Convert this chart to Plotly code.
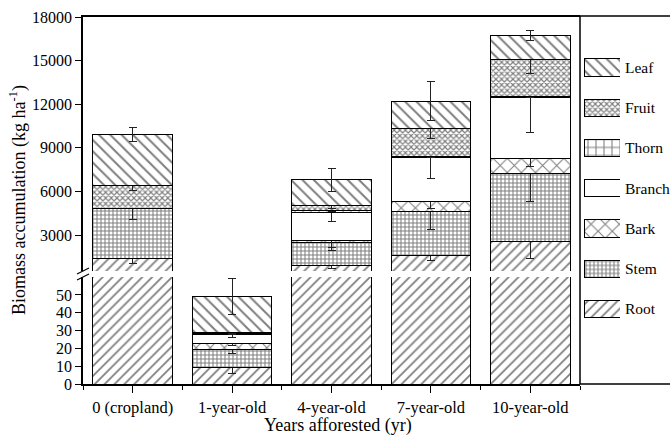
import plotly.graph_objects as go

# ---------------- data ----------------
categories = ["0 (cropland)", "1-year-old", "4-year-old", "7-year-old", "10-year-old"]
parts = ["Root", "Stem", "Bark", "Branch", "Thorn", "Fruit", "Leaf"]

root = [1350, 9.0, 900, 1600, 2550]
stem = [3500, 10.2, 1550, 3050, 4650]
bark = [0, 3.8, 200, 650, 1080]
branch = [0, 4.6, 1900, 3000, 4150]
thorn = [0, 0.7, 150, 100, 90]
fruit = [1550, 0.8, 350, 1900, 2570]
leaf = [3500, 19.9, 1750, 1900, 1630]

root_err = [280, 3, 200, 350, 1200]
stem_err = [800, 2, 500, 1300, 1900]
bark_err = [None, 1.5, 500, 450, 600]
branch_err = [None, 1.5, 620, 1400, 2400]
thorn_err = [None, 0.5, 100, 80, 60]
fruit_err = [350, 0.5, 250, 650, 1000]
leaf_err = [500, 10, 800, 1350, 350]

lower_ticks = [0, 10, 20, 30, 40, 50]
upper_ticks = [3000, 6000, 9000, 12000, 15000, 18000]
upper_tick_labels = ["3000", "6000", "9000", "12000", "15000", "18000"]

values = {"Root": root, "Stem": stem, "Bark": bark, "Branch": branch,
          "Thorn": thorn, "Fruit": fruit, "Leaf": leaf}
errors = {"Root": root_err, "Stem": stem_err, "Bark": bark_err, "Branch": branch_err,
          "Thorn": thorn_err, "Fruit": fruit_err, "Leaf": leaf_err}

# ---------------- styles ----------------
patterns = {
    "Root": dict(shape="/", size=7, solidity=0.25),
    "Stem": dict(shape="+", size=4, solidity=0.45),
    "Bark": dict(shape="x", size=10, solidity=0.2),
    "Branch": dict(shape="", size=8, solidity=0.1),
    "Thorn": dict(shape="+", size=8, solidity=0.25),
    "Fruit": dict(shape="x", size=4, solidity=0.5),
    "Leaf": dict(shape="\\", size=8, solidity=0.25),
}

FONT = "Liberation Serif"
W, H = 670, 437
ML, MR, MT, MB = 83, 0, 17, 53
PW, PH = W - ML - MR, H - MT - MB

def px_x(p):
    return (p - ML) / PW

def px_y(p):
    return (H - MB - p) / PH

x_pos = list(range(len(categories)))

fig = go.Figure()

for axes in [("x", "y"), ("x2", "y2")]:
    for name in parts:
        pat = patterns[name]
        fig.add_trace(go.Bar(
            x=x_pos, y=values[name], name=name,
            xaxis=axes[0], yaxis=axes[1], showlegend=False,
            marker=dict(color="white",
                        line=dict(color="black", width=1),
                        pattern=dict(shape=pat["shape"], size=pat["size"],
                                     solidity=pat["solidity"], fgcolor="black",
                                     bgcolor="white", fillmode="overlay")),
            error_y=dict(type="data", array=errors[name], visible=True,
                         color="#222222", thickness=1, width=4),
        ))

# legend swatches drawn as bars on their own small axis
legend_order = parts  # Root at bottom, Leaf at top
for i, name in enumerate(legend_order):
    pat = patterns[name]
    fig.add_trace(go.Bar(
        y=[i], x=[1], base=[0], orientation="h", width=[0.43],
        xaxis="x3", yaxis="y3", showlegend=False, hoverinfo="skip",
        marker=dict(color="white",
                    line=dict(color="black", width=1),
                    pattern=dict(shape=pat["shape"], size=pat["size"],
                                 solidity=pat["solidity"], fgcolor="black",
                                 bgcolor="white", fillmode="overlay")),
    ))

main_dom = [0, px_x(580)]
axis_common = dict(showgrid=False, zeroline=False, showline=True,
                   linecolor="black", linewidth=1.5, mirror=False,
                   tickfont=dict(family=FONT, size=16, color="black"),
                   tickcolor="black", tickwidth=1)

fig.update_layout(
    width=W, height=H,
    margin=dict(l=ML, r=MR, t=MT, b=MB, pad=0),
    paper_bgcolor="white", plot_bgcolor="white",
    barmode="stack", bargap=0.2,
    font=dict(family=FONT, size=16, color="black"),
    xaxis=dict(domain=main_dom, range=[-0.5, 4.5], anchor="y",
               tickmode="array", tickvals=x_pos, ticktext=categories,
               ticks="outside", ticklen=7,
               minor=dict(tickvals=[-0.5, 0.5, 1.5, 2.5, 3.5, 4.5], ticks="outside",
                          ticklen=4, tickcolor="black", tickwidth=1),
               **{**axis_common, "tickfont": dict(family=FONT, size=16.5, color="black")}),
    yaxis=dict(domain=[0, px_y(277)], range=[0, 60.1], anchor="x",
               tickmode="array", tickvals=lower_ticks, ticks="outside", ticklen=6,
               **axis_common),
    xaxis2=dict(domain=main_dom, range=[-0.5, 4.5], anchor="y2", matches="x",
                side="top", showticklabels=False, ticks="",
                showgrid=False, zeroline=False, showline=True,
                linecolor="black", linewidth=1.5),
    yaxis2=dict(domain=[px_y(271), 1], range=[523, 18000], anchor="x2",
                tickmode="array", tickvals=upper_ticks, ticktext=upper_tick_labels,
                ticks="outside", ticklen=6,
                **axis_common),
    xaxis3=dict(domain=[px_x(584), px_x(620)], range=[0, 1], anchor="y3",
                visible=False, fixedrange=True),
    yaxis3=dict(domain=[px_y(329.1), px_y(47.4)], range=[-0.5, 6.5], anchor="x3",
                side="right", tickmode="array", tickvals=list(range(len(legend_order))),
                ticktext=legend_order, ticks="", showline=False, showgrid=False,
                zeroline=False, ticklabelstandoff=4,
                tickfont=dict(family=FONT, size=15.5, color="black")),
    showlegend=False,
)

# legend frame
fig.add_shape(type="rect", xref="paper", yref="paper",
              x0=px_x(580), x1=px_x(690), y0=px_y(384), y1=px_y(16),
              line=dict(color="black", width=1.5), fillcolor="rgba(0,0,0,0)", layer="above")

# axis-break marks
for (x0, y0, x1, y1) in [(77, 280, 89, 274), (77, 274, 89, 268)]:
    fig.add_shape(type="line", xref="paper", yref="paper",
                  x0=px_x(x0), y0=px_y(y0), x1=px_x(x1), y1=px_y(y1),
                  line=dict(color="black", width=1.2))

# axis titles
fig.add_annotation(text="Biomass accumulation (kg ha<sup>-1</sup>)",
                   xref="paper", yref="paper", x=px_x(18), y=px_y(200),
                   textangle=-90, showarrow=False, xanchor="center", yanchor="middle",
                   font=dict(family=FONT, size=18, color="black"))
fig.add_annotation(text="Years afforested (yr)",
                   xref="paper", yref="paper", x=px_x(338), y=px_y(425),
                   showarrow=False, xanchor="center", yanchor="middle",
                   font=dict(family=FONT, size=18, color="black"))

fig.write_html("out.html")
